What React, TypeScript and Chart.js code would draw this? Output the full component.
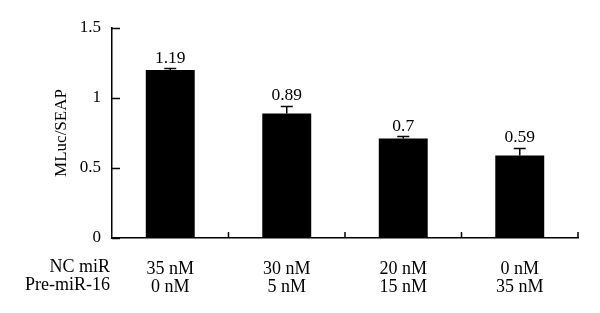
import React, { useEffect, useRef } from "react";
import { Chart, registerables } from "chart.js";

Chart.register(...registerables);

const categories: string[][] = [
  ["35 nM", "0 nM"],
  ["30 nM", "5 nM"],
  ["20 nM", "15 nM"],
  ["0 nM", "35 nM"],
];
const rowLabels = ["NC miR", "Pre-miR-16"];
const values = [1.2, 0.89, 0.71, 0.59];
const valueLabels = ["1.19", "0.89", "0.7", "0.59"];
const errors = [0.01, 0.05, 0.015, 0.05];
const yTicks = [0, 0.5, 1, 1.5];
const yTitle = "MLuc/SEAP";

const FONT = "'Liberation Serif', serif";

const overlay = {
  id: "overlay",
  afterDatasetsDraw(chart: any) {
    const ctx = chart.ctx;
    const x = chart.scales.x;
    const y = chart.scales.y;
    const area = chart.chartArea;
    ctx.save();
    ctx.strokeStyle = "#000";
    ctx.fillStyle = "#000";
    ctx.lineWidth = 1.5;
    // y ticks (inward)
    yTicks.forEach((v) => {
      const py = Math.round(y.getPixelForValue(v)) + 0.5;
      ctx.beginPath();
      ctx.moveTo(area.left, py);
      ctx.lineTo(area.left + 8, py);
      ctx.stroke();
    });
    // x ticks at category boundaries (inward)
    const n = values.length;
    const w = (area.right - area.left) / n;
    for (let i = 1; i <= n; i++) {
      const px = x.getPixelForValue(i - 1) + w / 2;
      ctx.beginPath();
      ctx.moveTo(px, area.bottom);
      ctx.lineTo(px, area.bottom - 6);
      ctx.stroke();
    }
    // error bars and value labels
    ctx.font = `17.5px ${FONT}`;
    ctx.textAlign = "center";
    ctx.textBaseline = "alphabetic";
    values.forEach((v, i) => {
      const px = x.getPixelForValue(i);
      const top = y.getPixelForValue(v);
      const cap = y.getPixelForValue(v + errors[i]);
      ctx.beginPath();
      ctx.moveTo(px, top);
      ctx.lineTo(px, cap);
      ctx.moveTo(px - 6, cap);
      ctx.lineTo(px + 6, cap);
      ctx.stroke();
      ctx.fillText(valueLabels[i], px, cap - 6);
    });
    // row labels
    ctx.font = `18px ${FONT}`;
    ctx.textAlign = "right";
    ctx.textBaseline = "middle";
    rowLabels.forEach((t, j) => {
      ctx.fillText(t, area.left - 2, area.bottom + 29 + j * 18);
    });
    ctx.restore();
  },
};

export default function App() {
  const ref = useRef<HTMLCanvasElement>(null);
  useEffect(() => {
    const chart = new Chart(ref.current!, {
      type: "bar",
      data: {
        labels: categories,
        datasets: [
          {
            data: values,
            backgroundColor: "#000",
            borderWidth: 0,
            categoryPercentage: 1,
            barPercentage: 0.42,
          },
        ],
      },
      options: {
        animation: false,
        responsive: true,
        maintainAspectRatio: false,
        layout: { padding: { left: 0, right: 22, top: 28, bottom: 0 } },
        plugins: { legend: { display: false }, tooltip: { enabled: false } },
        scales: {
          x: {
            grid: { display: false },
            border: { display: true, color: "#000", width: 1.5 },
            ticks: {
              color: "#000",
              font: { family: FONT, size: 18, lineHeight: 1.0 },
              padding: 14,
              maxRotation: 0,
              autoSkip: false,
            },
            afterFit: (s: any) => {
              s.height = 75;
            },
          },
          y: {
            min: 0,
            max: 1.5,
            afterBuildTicks: (s: any) => {
              s.ticks = yTicks.map((v) => ({ value: v }));
            },
            grid: { display: false },
            border: { display: true, color: "#000", width: 1.5 },
            ticks: {
              color: "#000",
              font: { family: FONT, size: 17 },
              padding: 3,
              callback: (v: any) => String(v),
            },
            title: {
              display: true,
              text: yTitle,
              color: "#000",
              font: { family: FONT, size: 17 },
              padding: { top: 51, bottom: 0 },
            },
            afterFit: (s: any) => {
              s.width = 112;
            },
          },
        },
      },
      plugins: [overlay],
    });
    return () => chart.destroy();
  }, []);
  return (
    <div style={{ position: "fixed", left: 0, top: 0, width: 600, height: 313, background: "#fff" }}>
      <canvas ref={ref} />
    </div>
  );
}
